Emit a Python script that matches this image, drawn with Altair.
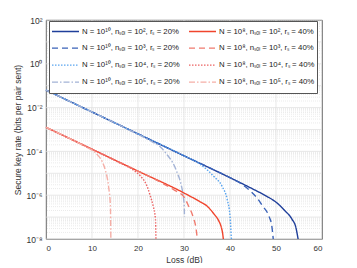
import altair as alt
import pandas as pd

# ---- data ----
labels = [
    "N = 10¹⁰, nₛₒₗ = 10², rₛ = 20%",
    "N = 10¹⁰, nₛₒₗ = 10³, rₛ = 20%",
    "N = 10¹⁰, nₛₒₗ = 10⁴, rₛ = 20%",
    "N = 10¹⁰, nₛₒₗ = 10⁵, rₛ = 20%",
    "N = 10⁸, nₛₒₗ = 10², rₛ = 40%",
    "N = 10⁸, nₛₒₗ = 10³, rₛ = 40%",
    "N = 10⁸, nₛₒₗ = 10⁴, rₛ = 40%",
    "N = 10⁸, nₛₒₗ = 10⁵, rₛ = 40%",
]
colors = ["#1f3f9a", "#3a62b8", "#5aa5ef", "#a3b3d6",
          "#f0442c", "#f07a6e", "#ec6363", "#f5aea6"]
dashes = [[1, 0], [6, 4], [1.5, 1.5], [6, 2, 1.5, 2],
          [1, 0], [6, 4], [1.5, 1.5], [6, 2, 1.5, 2]]

b1_loss = [0, 10, 20, 30, 40, 45, 48, 50, 52, 53.5, 54.3, 54.8]
b1_rate = [6.3e-2, 6.3e-3, 6.3e-4, 6.3e-5, 6.3e-6, 1.9e-6, 8.9e-7, 4.8e-7, 1.9e-7, 7.9e-8, 3.5e-8, 1e-8]

b2_loss = [0, 10, 20, 30, 40, 42, 44.5, 46, 47.1, 48.5, 49.1, 49.4]
b2_rate = [6.3e-2, 6.3e-3, 6.3e-4, 6.3e-5, 6.3e-6, 3.8e-6, 1.5e-6, 7.0e-7, 3.2e-7, 1.05e-7, 3.8e-8, 1e-8]

b3_loss = [0, 10, 20, 30, 33.5, 36.5, 38.3, 39.4, 40.0, 40.3]
b3_rate = [6.3e-2, 6.3e-3, 6.3e-4, 6.3e-5, 2.6e-5, 7.1e-6, 2.5e-6, 6.3e-7, 1.1e-7, 1e-8]

b4_loss = [0, 10, 20, 23, 25, 26.5, 27.5, 28.5, 29.3, 29.8, 30.05, 30.1]
b4_rate = [6.3e-2, 6.3e-3, 6.0e-4, 2.8e-4, 1.5e-4, 6.3e-5, 3.2e-5, 1.1e-5, 3.5e-6, 1.0e-6, 3.2e-7, 1.0e-7]

r1_loss = [0, 10, 20, 30, 33.5, 35, 36.5, 37.5, 38.1, 38.4, 38.55]
r1_rate = [1.26e-3, 1.26e-4, 1.26e-5, 1.26e-6, 5.0e-7, 3.2e-7, 1.4e-7, 7.1e-8, 3.5e-8, 1.8e-8, 1e-8]

r2_loss = [0, 10, 20, 25, 28, 30, 31, 32, 32.6, 32.9]
r2_rate = [1.26e-3, 1.26e-4, 1.26e-5, 3.8e-6, 1.66e-6, 8.3e-7, 3.2e-7, 1e-7, 3.2e-8, 1e-8]

r3_loss = [0, 10, 16, 19, 20.5, 22, 22.7, 23.3, 23.8, 23.9]
r3_rate = [1.26e-3, 1.26e-4, 3.0e-5, 1.4e-5, 7.6e-6, 2.5e-6, 8.9e-7, 3.2e-7, 7.9e-8, 1e-8]

r4_loss = [0, 5, 8, 11, 12.2, 12.9, 13.6, 14.0, 14.1]
r4_rate = [1.26e-3, 4.0e-4, 1.9e-4, 7.6e-5, 3.5e-5, 1.4e-5, 2.5e-6, 3.2e-7, 1e-8]

x_ticks = [0, 10, 20, 30, 40, 50, 60]
y_ticks = [1e-8, 1e-6, 1e-4, 1e-2, 1, 1e2]
y_decades = [1e-8, 1e-7, 1e-6, 1e-5, 1e-4, 1e-3, 1e-2, 1e-1, 1, 1e1, 1e2]
y_minor = [k * d for d in y_decades[:-1] for k in range(2, 10)]
x_grid = [10, 20, 30, 40, 50]

series = [
    (labels[0], b1_loss, b1_rate), (labels[1], b2_loss, b2_rate),
    (labels[2], b3_loss, b3_rate), (labels[3], b4_loss, b4_rate),
    (labels[4], r1_loss, r1_rate), (labels[5], r2_loss, r2_rate),
    (labels[6], r3_loss, r3_rate), (labels[7], r4_loss, r4_rate),
]
rows = []
for name, ls, rs in series:
    for i, (l, r) in enumerate(zip(ls, rs)):
        rows.append({"series": name, "loss": l, "rate": r, "order": i})
df = pd.DataFrame(rows)

FONT = "Liberation Sans"
xscale = alt.Scale(domain=[0, 60], nice=False)
yscale = alt.Scale(type="log", domain=[1e-8, 1e2], nice=False)

ylabel_expr = ("datum.value > 10 ? '10²' : datum.value > 0.1 ? '10⁰' : "
               "datum.value > 1e-3 ? '10⁻²' : datum.value > 1e-5 ? '10⁻⁴' : "
               "datum.value > 1e-7 ? '10⁻⁶' : '10⁻⁸'")

xaxis = alt.Axis(values=x_ticks, grid=False, ticks=False, domain=False,
                 labelFont=FONT, labelFontSize=8, labelColor="#333",
                 labelPadding=5, titleFont=FONT, titleFontSize=8.5,
                 titleFontWeight="normal", titleColor="#333", titlePadding=3)
yaxis = alt.Axis(values=y_ticks, labelExpr=ylabel_expr, grid=False,
                 ticks=False, domain=False, labelFont=FONT,
                 labelFontSize=8.5, labelColor="#333", labelPadding=4,
                 titleFont=FONT, titleFontSize=8.5, titleFontWeight="normal",
                 titleColor="#333", titlePadding=3)
XT = "Loss (dB)"
YT = "Secure key rate (bits per pair sent)"

minor = alt.Chart(pd.DataFrame({"rate": y_minor})).mark_rule(
    color="#d6d6d6", strokeWidth=0.5, strokeDash=[1, 1]
).encode(y=alt.Y("rate:Q", scale=yscale, axis=yaxis, title=YT))

major_y = alt.Chart(pd.DataFrame({"rate": y_decades})).mark_rule(
    color="#dedede", strokeWidth=0.7
).encode(y=alt.Y("rate:Q", scale=yscale, axis=yaxis, title=YT))

major_x = alt.Chart(pd.DataFrame({"loss": x_grid})).mark_rule(
    color="#dedede", strokeWidth=0.7
).encode(x=alt.X("loss:Q", scale=xscale, axis=xaxis, title=XT))

lines = alt.Chart(df).mark_line(strokeWidth=1.4, interpolate="monotone").encode(
    x=alt.X("loss:Q", scale=xscale, title=XT, axis=xaxis),
    y=alt.Y("rate:Q", scale=yscale, title=YT, axis=yaxis),
    color=alt.Color("series:N", scale=alt.Scale(domain=labels, range=colors),
                    sort=labels,
                    legend=alt.Legend(
                        title=None, orient="none", legendX=3, legendY=1,
                        columns=2, symbolType="stroke", symbolSize=729,
                        symbolStrokeWidth=1.4, labelFont=FONT, labelFontSize=7.8,
                        labelColor="#222", labelOffset=2, columnPadding=8,
                        rowPadding=0, clipHeight=16.3, padding=2,
                        fillColor="white", strokeColor="#555", labelLimit=200)),
    strokeDash=alt.StrokeDash("series:N",
                              scale=alt.Scale(domain=labels, range=dashes),
                              sort=labels),
    order="order:Q",
)

chart = alt.layer(minor, major_y, major_x, lines).properties(
    width=276, height=219,
    padding={"left": 38, "top": 12, "right": 20, "bottom": 24},
    autosize=alt.AutoSizeParams(type="none"),
).configure_view(stroke="#444", strokeWidth=0.8)

chart.save("out.html", embed_options={"renderer": "svg", "actions": False})
